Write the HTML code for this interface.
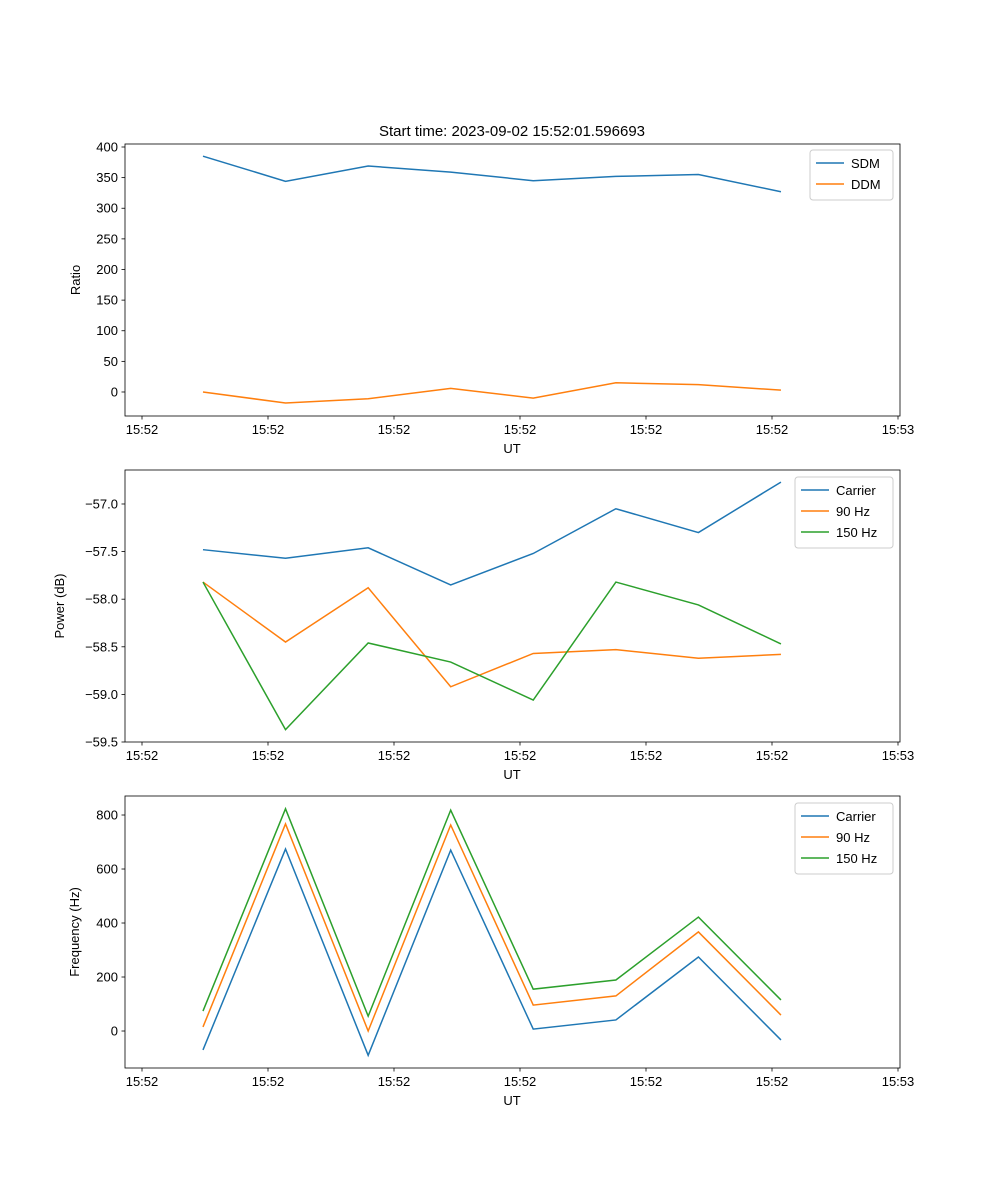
<!DOCTYPE html>
<html><head><meta charset="utf-8"><style>
body{margin:0;background:#fff}
svg{display:block;font-family:"Liberation Sans","DejaVu Sans",sans-serif}
</style></head><body>
<svg id="fig" width="1000" height="1200" viewBox="0 0 1000 1200" xmlns="http://www.w3.org/2000/svg">
<rect width="1000" height="1200" fill="#fff"/>
<text x="512" y="136" text-anchor="middle" font-size="15">Start time: 2023-09-02 15:52:01.596693</text>
</svg>
<script>
const times=[4.84,11.39,17.95,24.50,31.05,37.61,44.16,50.71];
const xTickVals=[0,10,20,30,40,50,60];
const xTickLabels=["15:52","15:52","15:52","15:52","15:52","15:52","15:53"];
const sdm=[385,344,369,359,345,352,355,327];
const ddm=[0,-18,-11,6,-10,15,12,3];
const ratioTicks=[0,50,100,150,200,250,300,350,400];
const powCarrier=[-57.48,-57.57,-57.46,-57.85,-57.52,-57.05,-57.30,-56.77];
const pow90=[-57.82,-58.45,-57.88,-58.92,-58.57,-58.53,-58.62,-58.58];
const pow150=[-57.82,-59.37,-58.46,-58.66,-59.06,-57.82,-58.06,-58.47];
const powTicks=[-59.5,-59.0,-58.5,-58.0,-57.5,-57.0];
const freqCarrier=[-70,674,-90,670,7,41,274,-33];
const freq90=[15,767,0,763,96,130,367,59];
const freq150=[74,823,55,818,155,189,422,115];
const freqTicks=[0,200,400,600,800];

const NS="http://www.w3.org/2000/svg";
const svg=document.getElementById('fig');
function el(tag,attrs,parent){const e=document.createElementNS(NS,tag);for(const k in attrs)e.setAttribute(k,attrs[k]);(parent||svg).appendChild(e);return e;}
const L=125,R=900;
const xScale=t=>142+(t-0)*12.6;
const C=["#1f77b4","#ff7f0e","#2ca02c"];

function panel(name,top,bottom,ymin,ymax,ticks,fmt,ylabel,series,legend){
  const g=el('g',{});
  
  
  const ys=v=>bottom-(v-ymin)/(ymax-ymin)*(bottom-top);
  series.forEach((s,i)=>{
    const p=el('polyline',{points:s.vals.map((v,j)=>xScale(times[j]).toFixed(2)+','+ys(v).toFixed(2)).join(' '),fill:'none',stroke:C[i],'stroke-width':1.5},g);
    
    
  });
  const fr=el('rect',{x:L,y:top,width:R-L,height:bottom-top,fill:'none',stroke:'#000','stroke-width':0.8},g);
  
  
  xTickVals.forEach((t,i)=>{
    const x=xScale(t);
    el('line',{x1:x,x2:x,y1:bottom,y2:bottom+3.5,stroke:'#000','stroke-width':0.8},g);
    const tx=el('text',{x:x,y:bottom+18,'text-anchor':'middle','font-size':13},g);
    tx.textContent=xTickLabels[i];
    
    
  });
  const xl=el('text',{x:512,y:bottom+37,'text-anchor':'middle','font-size':13},g);
  xl.textContent='UT';
  
  
  ticks.forEach(v=>{
    const y=ys(v);
    el('line',{x1:L-3.5,x2:L,y1:y,y2:y,stroke:'#000','stroke-width':0.8},g);
    const tx=el('text',{x:L-7,y:y+4.5,'text-anchor':'end','font-size':13},g);
    tx.textContent=fmt(v);
    
    
  });
  const yl=el('text',{x:0,y:0,'text-anchor':'middle','font-size':13,transform:`translate(${legend.ylx},${(top+bottom)/2}) rotate(-90)`},g);
  yl.textContent=ylabel;
  
  
  const lg=el('g',{},g);
  
  
  el('rect',{x:legend.x,y:legend.y,width:legend.w,height:8+series.length*21,rx:3,fill:'#fff',stroke:'#ccc','stroke-width':1},lg);
  series.forEach((s,i)=>{
    const yy=legend.y+13+i*21;
    el('line',{x1:legend.x+6,x2:legend.x+34,y1:yy,y2:yy,stroke:C[i],'stroke-width':1.5},lg);
    const t=el('text',{x:legend.x+41,y:yy+5,'font-size':13},lg);
    t.textContent=s.label;
    
    
  });
}
panel('ratio',144,416,-39.2,404.9,ratioTicks,v=>String(v),'Ratio',
  [{key:'sdm',label:'SDM',vals:sdm},{key:'ddm',label:'DDM',vals:ddm}],{x:810,y:150,w:83,ylx:80});
panel('power',470,742,-59.5,-56.643,powTicks,v=>(v<0?'\u2212':'')+Math.abs(v).toFixed(1),'Power (dB)',
  [{key:'carrier',label:'Carrier',vals:powCarrier},{key:'90hz',label:'90 Hz',vals:pow90},{key:'150hz',label:'150 Hz',vals:pow150}],{x:795,y:477,w:98,ylx:64});
panel('frequency',796,1068,-137,870.4,freqTicks,v=>String(v),'Frequency (Hz)',
  [{key:'carrier',label:'Carrier',vals:freqCarrier},{key:'90hz',label:'90 Hz',vals:freq90},{key:'150hz',label:'150 Hz',vals:freq150}],{x:795,y:803,w:98,ylx:79});
</script>
</body></html>
